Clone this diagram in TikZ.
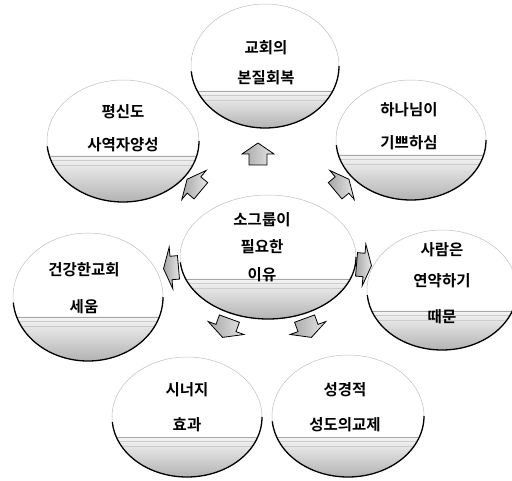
\documentclass[tikz,border=0pt]{standalone}
\usepackage{fontspec}
\newfontfamily\kr{Noto Sans CJK KR}[BoldFont={Noto Sans CJK KR Bold}]
\usetikzlibrary{shapes.geometric}
\tikzset{
  lbl/.style={font=\kr\bfseries\fontsize{15.5}{17}\selectfont, inner sep=0pt, anchor=center},
  barrowfill/.style={draw=black, line width=0.8pt, line join=miter,
     left color=gray!70, right color=gray!20},
  rim/.style={gray!50, line width=0.5pt},
  rimdark/.style={black, line width=1.3pt},
  water/.style={gray!70, line width=0.6pt},
}
\newcommand\bubble[6]{%
  \node[ellipse, minimum width={#4*2pt}, minimum height={#5*2pt}, inner sep=0pt] (#1) at (#2,#3) {};
  \begin{scope}
    \clip (#2,#3) ellipse[x radius=#4, y radius=#5];
    \shade[top color=gray!8, bottom color=gray!60] (#2-#4,#6) rectangle (#2+#4,#3+#5);
    \draw[water] (#2-#4,#6) -- (#2+#4,#6);
    \draw[gray!40, line width=0.4pt] (#2-#4,#6+4) -- (#2+#4,#6+4);
    \draw[gray!40, line width=0.4pt] (#2-#4,#6+9) -- (#2+#4,#6+9);
  \end{scope}
  \draw[rim] (#2,#3) ellipse[x radius=#4, y radius=#5];
  \draw[rimdark] ([shift={(0:#4 and #5)}]#2,#3) arc[start angle=0, end angle=175, x radius=#4, y radius=#5];
}
% block arrow: name, x, y, angle, depth, width
\newcommand\blockarrow[6]{%
  \coordinate (#1) at (#2,#3);
  \begin{scope}[shift={(#1)}, rotate=#4]
    \path[barrowfill] (-#5/2,-#6*0.28) -- (0,-#6*0.28) -- (0,-#6/2) -- (#5/2,0)
       -- (0,#6/2) -- (0,#6*0.28) -- (-#5/2,#6*0.28) -- cycle;
  \end{scope}
}
\begin{document}
\begin{tikzpicture}[x=1pt, y=-1pt]
\useasboundingbox (0,0) rectangle (512,481);

% bubbles: name, cx, cy, rx, ry, water line
\bubble{top}{265}{66}{74}{62}{91}
\bubble{ul}{123}{141}{76}{61}{156}
\bubble{ur}{411}{140}{75}{60}{155}
\bubble{mid}{268}{257}{88}{62}{279}
\bubble{lft}{88}{297}{75}{64}{317}
\bubble{rgt}{442}{290}{75}{60}{311}
\bubble{bl}{187}{417}{75}{60}{437}
\bubble{br}{348}{416}{76}{61}{437}

% labels
\node[lbl] (topa) at (266,48) {교회의};
\node[lbl] (topb) at (266,78) {본질회복};
\node[lbl] (ula) at (123,112) {평신도};
\node[lbl] (ulb) at (123,145) {사역자양성};
\node[lbl] (ura) at (409,110) {하나님이};
\node[lbl] (urb) at (409,143) {기쁘하심};
\node[lbl] (mida) at (262,220) {소그룹이};
\node[lbl] (midb) at (262,247) {필요한};
\node[lbl] (midc) at (262,275) {이유};
\node[lbl] (lfta) at (84,270) {건강한교회};
\node[lbl] (lftb) at (84,307) {세움};
\node[lbl] (rgta) at (442,250) {사람은};
\node[lbl] (rgtb) at (442,281) {연약하기};
\node[lbl] (rgtc) at (442,317) {때문};
\node[lbl] (bla) at (187,390) {시너지};
\node[lbl] (blb) at (187,425) {효과};
\node[lbl] (bra) at (345,390) {성경적};
\node[lbl] (brb) at (345,425) {성도의교제};

% block arrows from the centre bubble outward
\blockarrow{aup}{258}{154}{90}{22}{32}
\blockarrow{aul}{194}{185}{140}{18}{38}
\blockarrow{aur}{342}{185}{40}{18}{38}
\blockarrow{alf}{171}{268}{185}{15}{42}
\blockarrow{arg}{364}{265}{-5}{15}{42}
\blockarrow{abl}{226}{328}{250}{20}{38}
\blockarrow{abr}{308}{328}{290}{20}{38}
\end{tikzpicture}
\end{document}
